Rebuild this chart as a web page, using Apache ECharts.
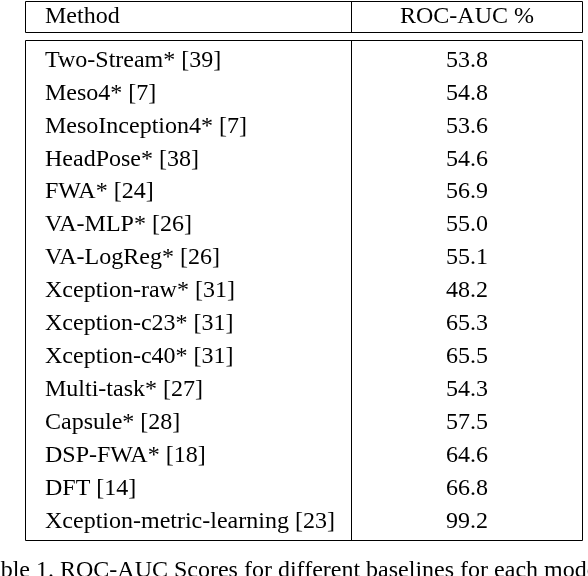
<!DOCTYPE html>
<html><head><meta charset="utf-8">
<script src="https://cdn.jsdelivr.net/npm/echarts@6/dist/echarts.min.js"></script>
<style>html,body{margin:0;padding:0;background:#fff}#c{width:588px;height:576px}</style>
</head><body><div id="c"></div>
<script>
const methods = ["Two-Stream* [39]","Meso4* [7]","MesoInception4* [7]","HeadPose* [38]","FWA* [24]","VA-MLP* [26]","VA-LogReg* [26]","Xception-raw* [31]","Xception-c23* [31]","Xception-c40* [31]","Multi-task* [27]","Capsule* [28]","DSP-FWA* [18]","DFT [14]","Xception-metric-learning [23]"];
const rocAuc = [53.8,54.8,53.6,54.6,56.9,55.0,55.1,48.2,65.3,65.5,54.3,57.5,64.6,66.8,99.2];
const headers = ["Method","ROC-AUC %"];
const caption = "Table 1. ROC-AUC Scores for different baselines for each model";

const F = "'Liberation Serif','DejaVu Serif',serif";
const FS = "24px ";
const chart = echarts.init(document.getElementById('c'));
const data = methods.map((m,i)=>[i, m, rocAuc[i]]);
chart.setOption({
  animation:false,
  grid:{left:25,right:5,top:44,height:494},
  xAxis:{type:'value',min:0,max:1,show:false},
  yAxis:{type:'category',data:methods,inverse:true,show:false},
  graphic:[
    {type:'rect',shape:{x:25.5,y:1.5,width:557,height:31},style:{fill:'none',stroke:'#000',lineWidth:1}},
    {type:'rect',shape:{x:25.5,y:40.5,width:557,height:500},style:{fill:'none',stroke:'#000',lineWidth:1}},
    {type:'line',shape:{x1:351.5,y1:1,x2:351.5,y2:33},style:{stroke:'#000',lineWidth:1}},
    {type:'line',shape:{x1:351.5,y1:40,x2:351.5,y2:541},style:{stroke:'#000',lineWidth:1}},
    {type:'text',x:45,y:17,style:{text:headers[0],font:FS+F,fill:'#000',verticalAlign:'middle'}},
    {type:'text',x:467,y:17,style:{text:headers[1],font:FS+F,fill:'#000',align:'center',verticalAlign:'middle'}},
    {type:'text',x:-23,y:571,style:{text:caption,font:FS+F,fill:'#000',verticalAlign:'middle'}}
  ],
  series:[{
    type:'custom',
    data:data,
    renderItem:function(params,api){
      const i = api.value(0);
      const p = api.coord([0,i]);
      return {type:'group',children:[
        {type:'text',x:45,y:p[1],style:{text:methods[i],font:FS+F,fill:'#000',verticalAlign:'middle'}},
        {type:'text',x:467,y:p[1],style:{text:rocAuc[i].toFixed(1),font:FS+F,fill:'#000',align:'center',verticalAlign:'middle'}}
      ]};
    }
  }]
});
</script></body></html>
